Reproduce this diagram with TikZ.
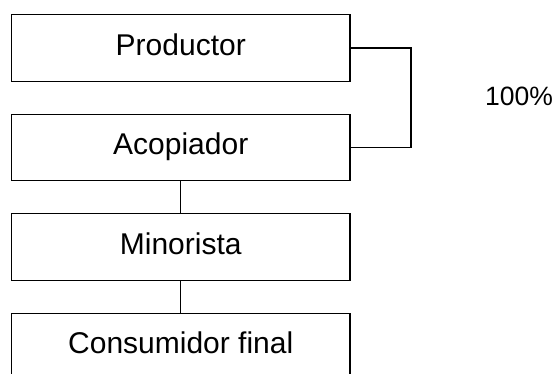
\documentclass[tikz,border=0pt]{standalone}
\usepackage{fontspec}
\setmainfont{Liberation Sans}
\begin{document}
\begin{tikzpicture}[x=1pt,y=-1pt,
  stagebox/.style={draw,line width=1.4pt,minimum width=338.5pt,minimum height=66.5pt,
    inner sep=0pt,font=\fontsize{30}{31}\selectfont,text height=21.3pt,text depth=7pt},
  link/.style={line width=1.4pt}]
\useasboundingbox (0,0) rectangle (556,374);
\clip (0,0) rectangle (556,374);
\fill[white] (0,0) rectangle (556,374);
\node[stagebox] (prod) at (180.75,48) {Productor};
\node[stagebox] (acop) at (180.75,147.5) {Acopiador};
\node[stagebox] (mino) at (180.75,247) {Minorista};
\node[stagebox] (cons) at (180.75,346.5) {Consumidor final};
\coordinate (bk) at (411,48);
\draw[link] (prod.east) -- (bk) |- (acop.east);
\draw[link] (acop.south) -- (mino.north);
\draw[link] (mino.south) -- (cons.north);
\node[font=\fontsize{26.5}{28}\selectfont,anchor=base west,inner sep=0pt] (pct) at (485,105.5) {100\%};
\end{tikzpicture}
\end{document}
